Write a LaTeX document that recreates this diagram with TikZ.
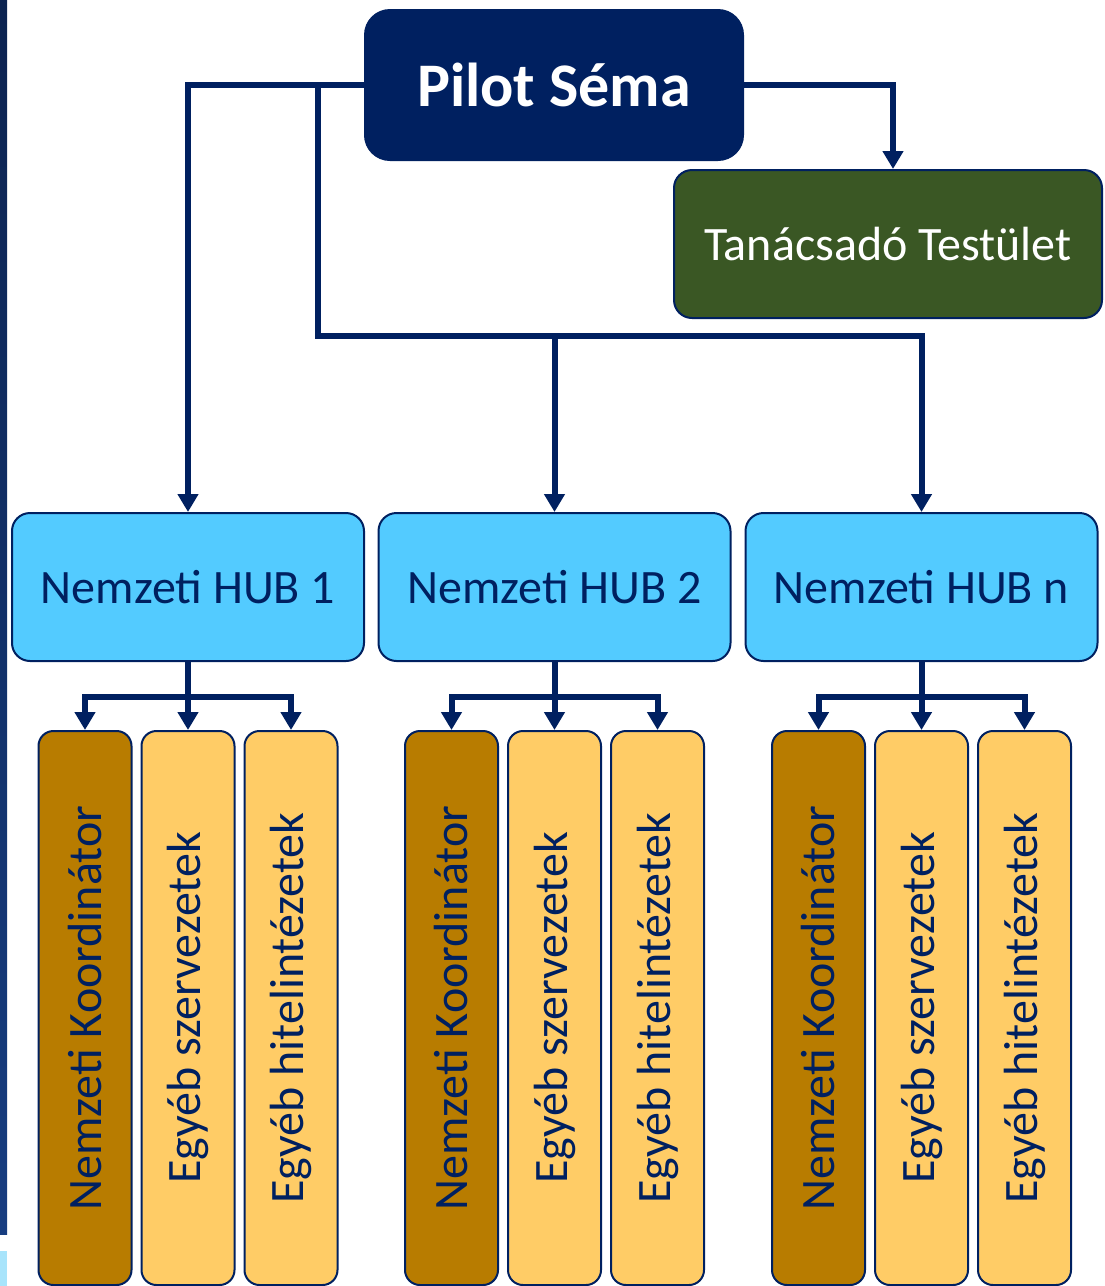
\documentclass[tikz,border=0pt]{standalone}
\usepackage{fontspec}
\setmainfont{Carlito}
\usetikzlibrary{arrows.meta}
\definecolor{navy}{HTML}{002060}
\definecolor{boardgreen}{HTML}{3A5724}
\definecolor{hubblue}{HTML}{53CBFF}
\definecolor{golddark}{HTML}{B87C00}
\definecolor{goldlight}{HTML}{FFCC66}
\definecolor{edgetop}{HTML}{0C2350}
\definecolor{edgebottom}{HTML}{173D80}
\definecolor{edgelight}{HTML}{A8E4FB}
\tikzset{box/.style = {draw=navy, line width=1pt, rounded corners=9pt, inner sep=0pt}}
\tikzset{head/.style = {box, fill=navy, text=white, minimum width=189pt, minimum height=75pt,
                        rounded corners=12.5pt, font=\fontsize{31}{36}\selectfont\bfseries}}
\tikzset{board/.style = {box, fill=boardgreen, text=white, minimum width=214pt, minimum height=74pt,
                         font=\fontsize{24}{28}\selectfont}}
\tikzset{hub/.style = {box, fill=hubblue, text=navy, minimum width=176pt, minimum height=74pt,
                       font=\fontsize{24}{28}\selectfont}}
\tikzset{member/.style = {box, text=navy, minimum width=46.5pt, minimum height=277pt,
                          rounded corners=7.5pt, font=\fontsize{24}{28}\selectfont}}
\tikzset{link/.style = {draw=navy, line width=3pt, -{Triangle[length=9pt, width=10pt]}}}

\begin{document}
\begin{tikzpicture}[x=0.5pt, y=-0.5pt]
    \useasboundingbox (0, 0) rectangle (1104, 1286);
    % slide edge
    \shade [top color=edgetop, bottom color=edgebottom] (0, 0) rectangle (7, 1234);
    \fill [edgelight] (0, 1251) rectangle (7, 1286);

    \node [head] (head) at (554, 85) {Pilot Séma};
    \node [board] (board) at (888, 244) {Tanácsadó Testület};

    \foreach \i/\x/\t in {1/188/1, 2/554.5/2, 3/921.5/n} {
      \node [hub] (hub\i) at (\x, 587) {Nemzeti HUB \t};
      \node [member, fill=golddark] (coord\i) at (\x-103, 1008) {\rotatebox{90}{Nemzeti Koordinátor}};
      \node [member, fill=goldlight] (org\i) at (\x, 1008) {\rotatebox{90}{Egyéb szervezetek}};
      \node [member, fill=goldlight] (bank\i) at (\x+103, 1008) {\rotatebox{90}{Egyéb hitelintézetek}};
      \coordinate (fork\i) at (\x, 697);
      \draw [link] (hub\i.south) -- (org\i.north);
      \draw [link] (fork\i) -| (coord\i.north);
      \draw [link] (fork\i) -| (bank\i.north);
    }

    \coordinate (tap) at (318, 85);
    \coordinate (bus) at (318, 336);
    \draw [link] (head.west) -| (hub1.north);
    \draw [link] (tap) -- (bus) -| (hub3.north);
    \draw [link] (bus -| hub2.north) -- (hub2.north);
    \draw [link] (head.east) -| ([xshift=2.5pt]board.north);
  \end{tikzpicture}
\end{document}
